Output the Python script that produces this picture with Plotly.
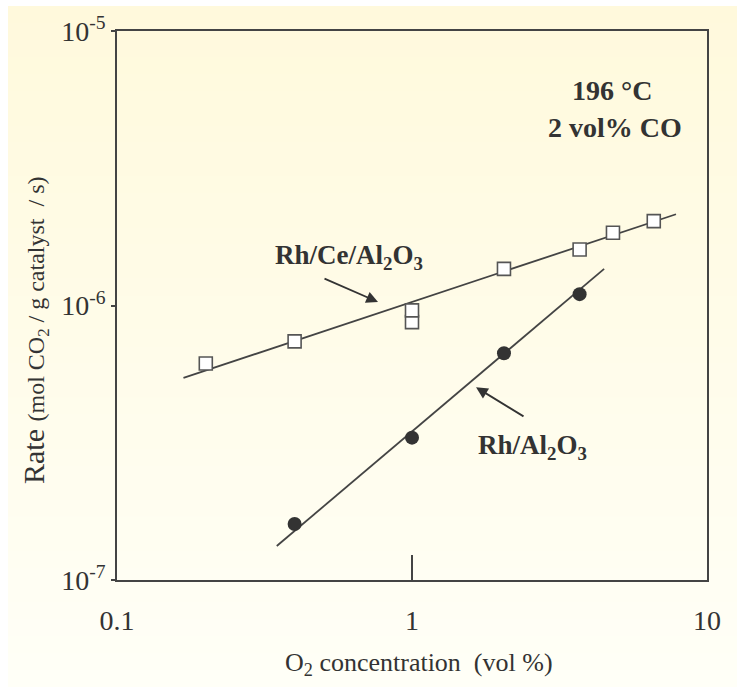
import plotly.graph_objects as go
import numpy as np

# ---- data ----
ce_x = [0.2, 0.4, 1.0, 1.0, 2.05, 3.7, 4.8, 6.6]
ce_y = [6.15e-7, 7.4e-7, 8.7e-7, 9.6e-7, 1.36e-6, 1.6e-6, 1.84e-6, 2.03e-6]
al_x = [0.4, 1.0, 2.05, 3.7]
al_y = [1.6e-7, 3.3e-7, 6.7e-7, 1.1e-6]
ce_fit_x = [0.168, 7.85]
ce_fit_y = [5.45e-7, 2.15e-6]
al_fit_x = [0.348, 4.48]
al_fit_y = [1.33e-7, 1.36e-6]
x_ticks = [0.1, 1, 10]
x_ticktext = ["0.1", "1", "10"]
y_ticks = [1e-7, 1e-6, 1e-5]
y_ticktext = ["10<sup>-7</sup>", "10<sup>-6</sup>", "10<sup>-5</sup>"]

FONT = "Liberation Serif"
INK = "#333333"

fig = go.Figure()
fig.add_trace(go.Scatter(x=ce_fit_x, y=ce_fit_y, mode="lines",
                         line=dict(color="#444", width=1.8), hoverinfo="skip", showlegend=False))
fig.add_trace(go.Scatter(x=al_fit_x, y=al_fit_y, mode="lines",
                         line=dict(color="#444", width=1.8), hoverinfo="skip", showlegend=False))
fig.add_trace(go.Scatter(x=ce_x, y=ce_y, mode="markers", name="Rh/Ce/Al2O3",
                         marker=dict(symbol="square", size=13, color="white",
                                     line=dict(color="#555", width=1.6)), showlegend=False))
fig.add_trace(go.Scatter(x=al_x, y=al_y, mode="markers", name="Rh/Al2O3",
                         marker=dict(symbol="circle", size=14, color="#333",
                                     line=dict(width=0)), showlegend=False))

# background gradient bands (paper coords)
shapes = []
n = 40
top_c = np.array([255, 249, 220])
bot_c = np.array([255, 255, 247])
y_top_px, y_bot_px = 6, 687
for i in range(n):
    p0 = y_top_px + (y_bot_px - y_top_px) * i / n
    p1 = y_top_px + (y_bot_px - y_top_px) * (i + 1) / n + 1
    t = (i + 0.5) / n
    c = (top_c * (1 - t) + bot_c * t).round().astype(int)
    shapes.append(dict(type="rect", xref="paper", yref="paper", layer="below",
                       x0=(8 - 117) / 590, x1=(737 - 117) / 590,
                       y0=(580 - p1) / 549, y1=(580 - p0) / 549,
                       line=dict(width=0), fillcolor=f"rgb({c[0]},{c[1]},{c[2]})"))

annotations = [
    dict(x=np.log10(0.767), y=np.log10(1.03e-6), xref="x", yref="y", text="",
         showarrow=True, arrowhead=2, arrowsize=1.3, arrowwidth=1.8, arrowcolor="#333",
         ax=-55, ay=-24),
    dict(x=0.217, y=-6.298, xref="x", yref="y", text="",
         showarrow=True, arrowhead=2, arrowsize=1.3, arrowwidth=1.8, arrowcolor="#333",
         ax=49, ay=30),
    dict(x=-0.2136, y=-5.823, xref="x", yref="y",
         text="<b>Rh/Ce/Al<sub>2</sub>O<sub>3</sub></b>", showarrow=False,
         xanchor="center", yanchor="middle",
         font=dict(family=FONT, size=27, color=INK)),
    dict(x=0.410, y=-6.515, xref="x", yref="y",
         text="<b>Rh/Al<sub>2</sub>O<sub>3</sub></b>", showarrow=False,
         xanchor="center", yanchor="middle",
         font=dict(family=FONT, size=27, color=INK)),
    dict(x=0.678, y=-5.215, xref="x", yref="y", text="<b>196 °C</b>", showarrow=False,
         xanchor="center", yanchor="middle",
         font=dict(family=FONT, size=28, color=INK)),
    dict(x=0.688, y=-5.353, xref="x", yref="y", text="<b>2 vol% CO</b>", showarrow=False,
         xanchor="center", yanchor="middle",
         font=dict(family=FONT, size=28, color=INK)),
    dict(x=(419 - 117) / 590, y=(580 - 664) / 549, xref="paper", yref="paper",
         text="O<sub>2</sub> concentration  (vol %)", showarrow=False,
         xanchor="center", yanchor="middle",
         font=dict(family=FONT, size=26, color=INK)),
    dict(x=(35 - 117) / 590, y=(580 - 330) / 549, xref="paper", yref="paper",
         text="Rate <span style='font-size:24px'>(mol CO<sub>2</sub> / g catalyst  / s)</span>",
         textangle=-90, showarrow=False, xanchor="center", yanchor="middle",
         font=dict(family=FONT, size=30, color=INK)),
]

fig.update_layout(
    width=737, height=687,
    margin=dict(l=117, r=30, t=31, b=107),
    paper_bgcolor="white", plot_bgcolor="rgba(0,0,0,0)",
    shapes=shapes, annotations=annotations,
    xaxis=dict(type="log", range=[-1, 1], tickvals=x_ticks, ticktext=x_ticktext,
               ticks="inside", ticklen=25, tickwidth=1.5, tickcolor="#444",
               showline=True, mirror=True, linecolor="#444", linewidth=1.6,
               showgrid=False, zeroline=False, ticklabelstandoff=15,
               tickfont=dict(family=FONT, size=28, color=INK)),
    yaxis=dict(type="log", range=[-7, -5], tickvals=y_ticks, ticktext=y_ticktext,
               ticks="outside", ticklen=4, tickwidth=1.5, tickcolor="#444",
               showline=True, mirror=True, linecolor="#444", linewidth=1.6,
               showgrid=False, zeroline=False,
               tickfont=dict(family=FONT, size=28, color=INK)),
)

fig.write_html("out.html")
